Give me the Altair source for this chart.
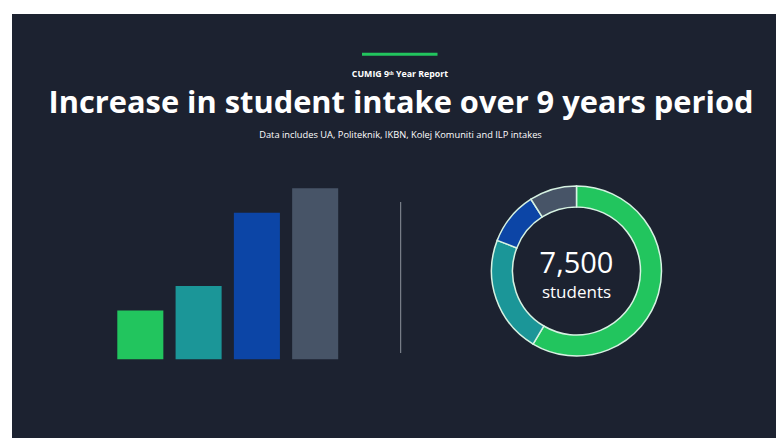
import altair as alt
import pandas as pd

# ---- data ----
bar_categories = ["Period 1", "Period 2", "Period 3", "Period 4"]
bar_values = [2, 3, 6, 7]
bar_colors = ["#22c55e", "#1b9698", "#0c45a6", "#475467"]

donut_categories = ["UA", "Politeknik", "IKBN", "Kolej Komuniti"]
donut_values = [4390, 1675, 760, 675]
donut_colors = ["#22c55e", "#1b9698", "#0c45a6", "#475467"]

kicker = "CUMIG 9ᵗʰ Year Report"
title = "Increase in student intake over 9 years period"
subtitle = "Data includes UA, Politeknik, IKBN, Kolej Komuniti and ILP intakes"
center_unit = "students"

BG = "#1c2230"
W, H = 764, 424

bars_df = pd.DataFrame({"cat": bar_categories, "val": bar_values})
donut_df = pd.DataFrame({"cat": donut_categories, "val": donut_values,
                         "ord": list(range(len(donut_categories)))})
total = sum(donut_values)

bars = alt.Chart(bars_df).mark_bar().encode(
    x=alt.X("cat:N", sort=bar_categories, axis=None,
            scale=alt.Scale(range=[105.3, 326.2], paddingInner=0.21, paddingOuter=0)),
    y=alt.Y("val:Q", axis=None, scale=alt.Scale(domain=[0, 7], range=[345.3, 174.3], nice=False, zero=True)),
    color=alt.Color("cat:N", scale=alt.Scale(domain=bar_categories, range=bar_colors), legend=None),
)

donut = alt.Chart(donut_df).mark_arc(
    outerRadius=85, innerRadius=64, stroke="#d6f2e2", strokeWidth=1.5
).encode(
    theta=alt.Theta("val:Q", stack=True),
    order=alt.Order("ord:Q"),
    color=alt.Color("cat:N", scale=alt.Scale(domain=donut_categories, range=donut_colors), legend=None),
    x=alt.value(564.5),
    y=alt.value(257),
)

def txt(s, x, y, size, weight="normal", font="Open Sans", color="white"):
    return alt.Chart(pd.DataFrame({"t": [s]})).mark_text(
        font=font, fontSize=size, fontWeight=weight, color=color, align="center", baseline="alphabetic"
    ).encode(text="t:N", x=alt.value(x), y=alt.value(y))

top_line = alt.Chart(pd.DataFrame({"a": [0]})).mark_rule(color="#22c55e", strokeWidth=3).encode(
    x=alt.value(350), x2=alt.value(425.5), y=alt.value(40.3))
divider = alt.Chart(pd.DataFrame({"a": [0]})).mark_rule(color="#8d939c", strokeWidth=1).encode(
    x=alt.value(388.7), y=alt.value(188), y2=alt.value(339))

layers = [
    top_line,
    txt(kicker, 388, 62.5, 8.8, "bold"),
    txt(title, 389, 99, 30.8, "bold"),
    txt(subtitle, 388.5, 124, 9.3),
    bars,
    divider,
    donut,
    txt(f"{total:,}", 564.5, 259, 29, "normal"),
    txt(center_unit, 564.5, 284, 17, "normal"),
]

chart = alt.layer(*layers).resolve_scale(x="independent", y="independent", color="independent").properties(
    width=W, height=H,
    padding={"left": 12, "top": 14, "right": 0, "bottom": 0},
    autosize=alt.AutoSizeParams(type="none"),
    background="white",
).configure_view(fill=BG, stroke=None)

chart.save("out.html", embed_options={"renderer": "svg", "actions": False})
